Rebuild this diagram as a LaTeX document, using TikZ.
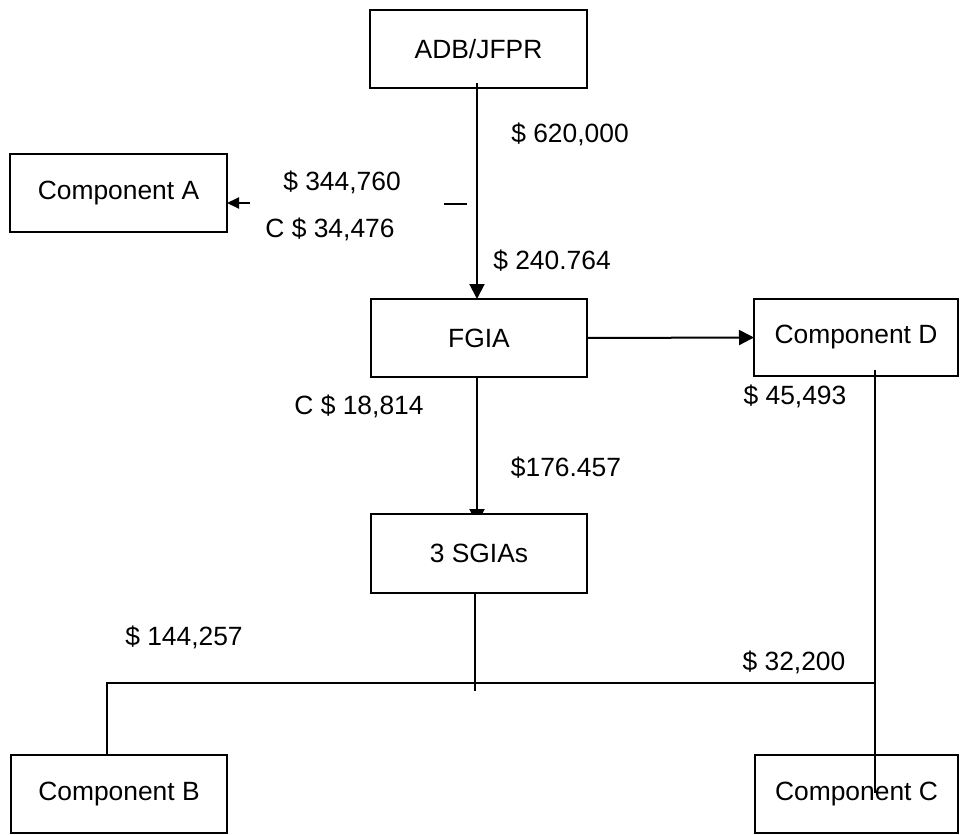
\documentclass[tikz,border=0pt]{standalone}
\usepackage{fontspec}
\setmainfont{Liberation Sans}
\usetikzlibrary{arrows.meta,backgrounds}
\begin{document}
\begin{tikzpicture}[x=0.5pt,y=-0.5pt,
  box/.style={draw,line width=1pt,rectangle,inner sep=0pt,outer sep=0pt,fill=white,
              font=\fontsize{13.2}{15}\selectfont},
  lbl/.style={inner sep=0pt,font=\fontsize{13.2}{15}\selectfont},
  conn/.style={line width=1pt},
  arr/.style={conn,-{Triangle[length=7.5pt,width=7.5pt]}},
  smallarr/.style={conn,-{Triangle[length=6pt,width=5.5pt]}}]
\useasboundingbox (0,0) rectangle (960,835);
% boxes
\node[box,minimum width=108.5pt,minimum height=39pt] (adb)   at (478.5,49)   {ADB/JFPR};
\node[box,minimum width=108.5pt,minimum height=39pt] (compa) at (118.5,193)  {Component A};
\node[box,minimum width=108pt,minimum height=39pt]   (fgia)  at (479,338)    {FGIA};
\node[box,minimum width=102pt,minimum height=38.5pt] (compd) at (856,337.5)  {Component D};
\node[box,minimum width=108pt,minimum height=39.5pt] (sgia)  at (479,553.5)  {3 SGIAs};
\node[box,minimum width=108pt,minimum height=39pt]   (compb) at (119,794)    {Component B};
\node[box,minimum width=101.5pt,minimum height=39pt] (compc) at (856.5,794)  {Component C};
% helper coordinates
\coordinate (xa) at (477,0);
\coordinate (astart) at (250,203);
\coordinate (d1) at (444,204);
\coordinate (d2) at (467,204);
\coordinate (dtop) at (875,370);
\coordinate (dbot) at (875,793);
\coordinate (jl) at (107,683);
\coordinate (jr) at (875,683);
\coordinate (sgb) at (475,691);
% connectors
\draw[arr,shorten <=-2.5pt] (adb.south -| xa) -- (fgia.north -| xa);
\draw[smallarr] (astart) -- (astart -| compa.east);
\draw[conn] (d1) -- (d2);
\draw[arr] (fgia.east) -- (compd.west);
\begin{pgfonlayer}{background}
\draw[arr,shorten >=-5pt] (fgia.south -| xa) -- (sgia.north -| xa);
\end{pgfonlayer}
\draw[conn] (dtop) -- (dbot);
\draw[conn] (sgia.south -| sgb) -- (sgb);
\draw[conn] (jr) -- (jl) -- (jl |- compb.north);
% labels
\node[lbl] (l1) at (570,134) {\$ 620,000};
\node[lbl] (l2) at (342,182) {\$ 344,760};
\node[lbl] (l3) at (330,229) {C \$ 34,476};
\node[lbl] (l4) at (552,261) {\$ 240.764};
\node[lbl] (l5) at (359,406) {C \$ 18,814};
\node[lbl] (l6) at (566,468) {\$176.457};
\node[lbl] (l7) at (795,396) {\$ 45,493};
\node[lbl] (l8) at (184,637) {\$ 144,257};
\node[lbl] (l9) at (794,662) {\$ 32,200};
\end{tikzpicture}
\end{document}
